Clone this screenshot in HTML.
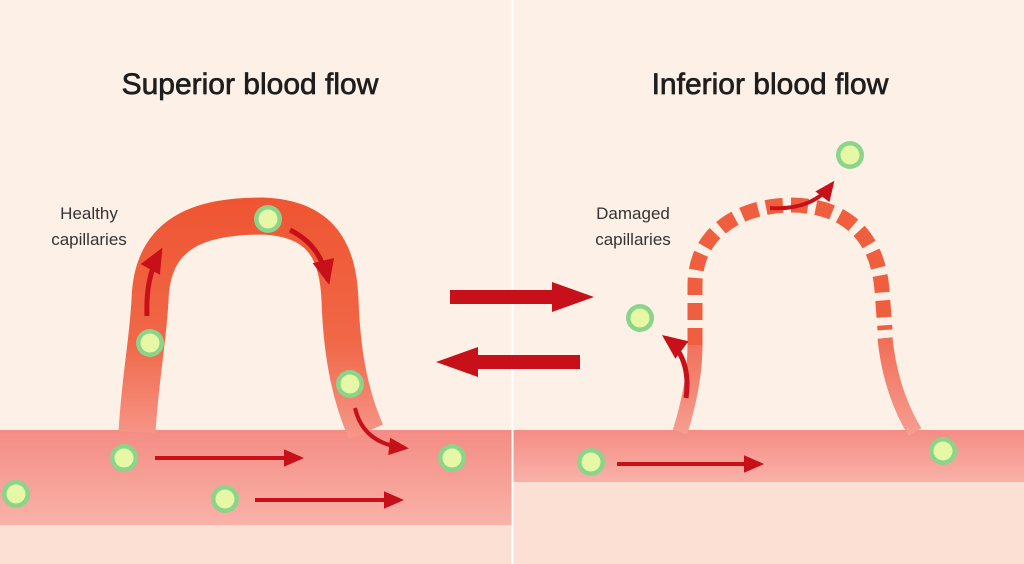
<!DOCTYPE html>
<html><head><style>
html,body{margin:0;padding:0;background:#fdf1e7;}
svg{display:block;}
text{font-family:"Liberation Sans",sans-serif;}
</style></head><body>
<svg width="1024" height="564" viewBox="0 0 1024 564" xmlns="http://www.w3.org/2000/svg">
<defs>
<linearGradient id="band" x1="0" y1="0" x2="0" y2="1"><stop offset="0" stop-color="#f48c84"/><stop offset="1" stop-color="#f9b2a8"/></linearGradient>
<linearGradient id="cap" gradientUnits="userSpaceOnUse" x1="0" y1="200" x2="0" y2="440"><stop offset="0" stop-color="#ef5532"/><stop offset="0.6" stop-color="#f06848"/><stop offset="1" stop-color="#f7988c"/></linearGradient>
<linearGradient id="cap2" gradientUnits="userSpaceOnUse" x1="0" y1="330" x2="0" y2="440"><stop offset="0" stop-color="#f06a52"/><stop offset="1" stop-color="#f7a094"/></linearGradient>
<marker id="ah" markerWidth="6" markerHeight="6" refX="4" refY="3" orient="auto" markerUnits="strokeWidth"><path d="M0,0.8 L5,3 L0,5.2 Z" fill="#c8101a"/></marker>
<g id="cell"><circle r="14" fill="#8bd58a"/><circle r="9.5" fill="#e6f7a6"/></g>
</defs>
<rect width="1024" height="564" fill="#fdf1e7"/>
<rect x="0" y="525" width="512" height="39" fill="#fde0d4"/>
<rect x="512" y="482" width="512" height="82" fill="#fde0d4"/>
<rect x="0" y="430" width="512" height="95" fill="url(#band)"/>
<rect x="512" y="430" width="512" height="52" fill="url(#band)"/>
<line x1="512.5" y1="0" x2="512.5" y2="564" stroke="#ffffff" stroke-width="2"/>

<text x="250" y="94" font-size="30" text-anchor="middle" fill="#1e1e1e" stroke="#1e1e1e" stroke-width="0.7">Superior blood flow</text>
<text x="770" y="94" font-size="30" text-anchor="middle" fill="#1e1e1e" stroke="#1e1e1e" stroke-width="0.7">Inferior blood flow</text>
<text x="89" y="219" font-size="17" text-anchor="middle" fill="#333">Healthy</text>
<text x="89" y="245" font-size="17" text-anchor="middle" fill="#333">capillaries</text>
<text x="633" y="219" font-size="17" text-anchor="middle" fill="#333">Damaged</text>
<text x="633" y="245" font-size="17" text-anchor="middle" fill="#333">capillaries</text>

<path d="M137,432 C140,380 148,340 150,300 C152,232 200,216 262,216 C322,218 338,252 340,300 C342,360 352,400 366,432" fill="none" stroke="url(#cap)" stroke-width="37"/>

<path d="M680,432 C690,400 695,372 695,345" fill="none" stroke="url(#cap2)" stroke-width="15"/>
<path d="M695,345 L695,285 C695,232 740,206 790,205 C850,205 878,240 882,290 L885,330" fill="none" stroke="#ef5f3f" stroke-width="15" stroke-dasharray="17,8"/>
<path d="M885,338 C888,370 898,405 915,432" fill="none" stroke="url(#cap2)" stroke-width="15"/>

<path d="M147,316 C146,290 150,270 160,252" fill="none" stroke="#c8101a" stroke-width="5" marker-end="url(#ah)"/>
<path d="M290,230 C310,240 322,255 328,280" fill="none" stroke="#c8101a" stroke-width="5" marker-end="url(#ah)"/>
<path d="M355,408 C360,430 375,445 405,448" fill="none" stroke="#c8101a" stroke-width="4" marker-end="url(#ah)"/>
<line x1="155" y1="458" x2="300" y2="458" stroke="#c8101a" stroke-width="4" marker-end="url(#ah)"/>
<line x1="255" y1="500" x2="400" y2="500" stroke="#c8101a" stroke-width="4" marker-end="url(#ah)"/>
<line x1="617" y1="464" x2="760" y2="464" stroke="#c8101a" stroke-width="4" marker-end="url(#ah)"/>
<path d="M686,398 C690,370 682,350 666,338" fill="none" stroke="#c8101a" stroke-width="5" marker-end="url(#ah)"/>
<path d="M770,208 C800,210 820,200 832,184" fill="none" stroke="#c8101a" stroke-width="4" marker-end="url(#ah)"/>

<path d="M450,290 H552 V282 L594,297 L552,312 V304 H450 Z" fill="#c8101a"/>
<path d="M580,355 H478 V347 L436,362 L478,377 V369 H580 Z" fill="#c8101a"/>

<use href="#cell" x="16" y="494"/>
<use href="#cell" x="124" y="458"/>
<use href="#cell" x="225" y="499"/>
<use href="#cell" x="150" y="343"/>
<use href="#cell" x="268" y="219"/>
<use href="#cell" x="350" y="384"/>
<use href="#cell" x="452" y="458"/>
<use href="#cell" x="640" y="318"/>
<use href="#cell" x="850" y="155"/>
<use href="#cell" x="591" y="462"/>
<use href="#cell" x="943" y="451"/>
</svg>
</body></html>
